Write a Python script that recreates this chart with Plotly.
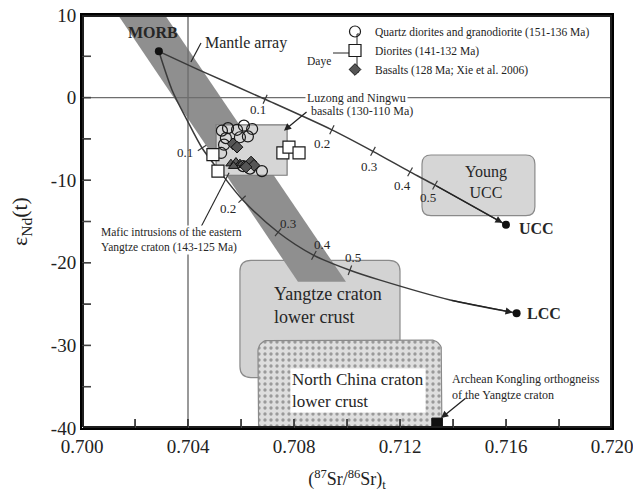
import numpy as np
import plotly.graph_objects as go

FONT = "Liberation Serif"
INK = "#262626"

# ---- axes -------------------------------------------------------------
x_range = [0.700, 0.720]
y_range = [-40, 10]
x_tick_vals = [0.700, 0.702, 0.704, 0.706, 0.708, 0.710, 0.712, 0.714, 0.716, 0.718, 0.720]
x_tick_text = ["0.700", "", "0.704", "", "0.708", "", "0.712", "", "0.716", "", "0.720"]
y_tick_vals = [10, 5, 0, -5, -10, -15, -20, -25, -30, -35, -40]
y_tick_text = ["10", "", "0", "", "-10", "", "-20", "", "-30", "", "-40"]

# ---- end-members ------------------------------------------------------
morb_sr, morb_nd = 0.7029, 5.6
ucc_sr, ucc_nd = 0.7160, -15.4
lcc_sr, lcc_nd = 0.7164, -26.1

# ---- mixing curves MORB -> UCC and MORB -> LCC ------------------------
ucc_curve_sr = [0.7029, 0.70445, 0.70691, 0.70943, 0.71098, 0.71238, 0.71332, 0.7160]
ucc_curve_nd = [5.6, 3.3, -0.2, -3.9, -6.5, -9.0, -10.6, -15.4]
lcc_curve_sr = [0.7029, 0.7034, 0.70396, 0.70453, 0.70521, 0.70604, 0.7074,
                0.70875, 0.71011, 0.71125, 0.71389, 0.7164]
lcc_curve_nd = [5.6, 0.9, -2.7, -6.1, -9.0, -12.3, -16.3, -19.1, -20.9,
                -22.1, -24.5, -26.1]

# mixing proportions marked on the curves
mix_labels = ["0.1", "0.2", "0.3", "0.4", "0.5"]
ucc_mark_sr = [0.70691, 0.70943, 0.71098, 0.71238, 0.71332]
ucc_mark_nd = [-0.2, -3.9, -6.5, -9.0, -10.6]
ucc_label_sr = [0.70664, 0.70906, 0.71083, 0.71211, 0.71306]
ucc_label_nd = [-1.5, -5.5, -8.4, -10.6, -12.1]
lcc_mark_sr = [0.70453, 0.70604, 0.7074, 0.70875, 0.71011]
lcc_mark_nd = [-6.1, -12.3, -16.3, -19.1, -20.9]
lcc_label_sr = [0.70389, 0.70551, 0.70777, 0.70909, 0.71023]
lcc_label_nd = [-6.7, -13.4, -15.2, -17.8, -19.4]

# ---- fields -----------------------------------------------------------
mantle_sr = [0.70136, 0.70313, 0.70996, 0.70815]
mantle_nd = [10, 10, -22.3, -22.3]
luzong_sr = [0.70506, 0.70774]
luzong_nd = [-9.4, -3.3]
young_ucc_sr = [0.71283, 0.71709]
young_ucc_nd = [-14.3, -6.95]
yangtze_lc_sr = [0.70596, 0.71200]
yangtze_lc_nd = [-33.9, -19.7]
ncc_lc_sr = [0.70664, 0.71358]
ncc_lc_nd = [-41.0, -29.35]
kongling_sr = [0.7132, 0.7136]
kongling_nd = [-40.0, -38.8]

# ---- Daye samples -----------------------------------------------------
qd_sr = [0.70528, 0.70551, 0.70585, 0.70611, 0.70642, 0.70596, 0.70626,
         0.70543, 0.70536, 0.70525, 0.70634, 0.70679, 0.70608]
qd_nd = [-4.0, -3.7, -3.9, -3.4, -3.8, -4.8, -4.7, -4.9, -5.7, -6.7,
         -8.6, -8.9, -8.3]
dio_sr = [0.70494, 0.70513, 0.70758, 0.70781, 0.70819]
dio_nd = [-6.9, -8.9, -6.7, -6.0, -6.7]
bas_sr = [0.70570, 0.70585, 0.70638, 0.70649, 0.70619]
bas_nd = [-5.6, -6.0, -7.8, -8.2, -8.4]
# mafic intrusions of the eastern Yangtze craton
maf_sr = [0.70562, 0.70581, 0.70596, 0.70611, 0.70572]
maf_nd = [-8.0, -7.8, -8.0, -8.2, -8.3]

legend_names = ["Quartz diorites and granodiorite (151-136 Ma)",
                "Diorites (141-132 Ma)",
                "Basalts (128 Ma; Xie et al. 2006)"]

# ---- layout geometry --------------------------------------------------
W, H = 633, 492
M_L, M_R, M_T, M_B = 82, 21, 15, 64
PW, PH = W - M_L - M_R, H - M_T - M_B
SX = PW / (x_range[1] - x_range[0])   # px per unit Sr ratio
SY = PH / (y_range[1] - y_range[0])   # px per epsilon unit
TICK_PX = 9


def px_x(px):
    return (px - M_L) / PW


def px_y(py):
    return (H - M_B - py) / PH


def rounded_path(xs, ys, r):
    x0, x1 = xs
    y0, y1 = ys
    rx, ry = r / SX, r / SY
    return (f"M {x0 + rx},{y0} L {x1 - rx},{y0} Q {x1},{y0} {x1},{y0 + ry} "
            f"L {x1},{y1 - ry} Q {x1},{y1} {x1 - rx},{y1} "
            f"L {x0 + rx},{y1} Q {x0},{y1} {x0},{y1 - ry} "
            f"L {x0},{y0 + ry} Q {x0},{y0} {x0 + rx},{y0} Z")


def rounded_outline(xs, ys, r, n=10):
    x0, x1 = xs
    y0, y1 = ys
    rx, ry = r / SX, r / SY
    corners = [(x1 - rx, y0 + ry, -90, 0), (x1 - rx, y1 - ry, 0, 90),
               (x0 + rx, y1 - ry, 90, 180), (x0 + rx, y0 + ry, 180, 270)]
    px, py = [], []
    for cx, cy, a0, a1 in corners:
        t = np.radians(np.linspace(a0, a1, n))
        px += list(cx + rx * np.cos(t))
        py += list(cy + ry * np.sin(t))
    px.append(px[0])
    py.append(py[0])
    return px, py


def cross_marks(curve_sr, curve_nd, mark_sr, mark_nd, half_px=5):
    """short strokes across a curve at the given points, perpendicular on screen"""
    cx = (np.array(curve_sr) - x_range[0]) * SX
    cy = (y_range[1] - np.array(curve_nd)) * SY
    out = []
    for ms, mn in zip(mark_sr, mark_nd):
        i = int(np.argmin(np.abs(np.array(curve_sr) - ms)))
        i0, i1 = max(i - 1, 0), min(i + 1, len(cx) - 1)
        dx, dy = cx[i1] - cx[i0], cy[i1] - cy[i0]
        n = np.hypot(dx, dy)
        ux, uy = -dy / n, dx / n          # screen normal
        out.append(dict(type="line",
                        x0=ms + ux * half_px / SX, y0=mn - uy * half_px / SY,
                        x1=ms - ux * half_px / SX, y1=mn + uy * half_px / SY,
                        line=dict(color="#3a3a3a", width=1.2)))
    return out


fig = go.Figure()

# ---- fields -----------------------------------------------------------
shapes = []
shapes.append(dict(type="path", path=rounded_path(yangtze_lc_sr, yangtze_lc_nd, 11),
                   fillcolor="#d3d3d3", line=dict(color="#8a8a8a", width=1.2), layer="below"))
mantle_path = "M " + " L ".join(f"{a},{b}" for a, b in zip(mantle_sr, mantle_nd)) + " Z"
shapes.append(dict(type="path", path=mantle_path, fillcolor="#8f8f8f",
                   line=dict(width=0), layer="below"))
shapes.append(dict(type="path", path=rounded_path(young_ucc_sr, young_ucc_nd, 9),
                   fillcolor="#d6d6d6", line=dict(color="#8a8a8a", width=1.2), layer="below"))
shapes.append(dict(type="rect", x0=luzong_sr[0], x1=luzong_sr[1],
                   y0=luzong_nd[0], y1=luzong_nd[1], fillcolor="#d6d6d6",
                   line=dict(color="#7a7a7a", width=1.2), layer="below"))
# reference lines
shapes.append(dict(type="line", x0=x_range[0], x1=x_range[1], y0=0, y1=0,
                   line=dict(color="#6e6e6e", width=1.4), layer="below"))
shapes.append(dict(type="line", x0=0.704, x1=0.704, y0=y_range[0], y1=y_range[1],
                   line=dict(color="#6e6e6e", width=1.4), layer="below"))
# leader lines
shapes.append(dict(type="line", x0=0.70449, y0=6.6, x1=0.70411, y1=4.3,
                   line=dict(color=INK, width=1.2)))
shapes.append(dict(type="line", x0=0.70445, y0=-15.9, x1=0.70555, y1=-9.1,
                   line=dict(color=INK, width=1.1)))
# proportion marks on the mixing curves
shapes += cross_marks(ucc_curve_sr, ucc_curve_nd, ucc_mark_sr, ucc_mark_nd)
shapes += cross_marks(lcc_curve_sr, lcc_curve_nd, lcc_mark_sr, lcc_mark_nd)
# Daye bracket of the legend
bx = px_x(357)
shapes += [
    dict(type="line", xref="paper", yref="paper", x0=px_x(333), x1=px_x(356),
         y0=px_y(53), y1=px_y(53), line=dict(color=INK, width=1)),
    dict(type="line", xref="paper", yref="paper", x0=bx, x1=bx,
         y0=px_y(34), y1=px_y(72), line=dict(color=INK, width=1)),
    dict(type="line", xref="paper", yref="paper", x0=bx, x1=px_x(359),
         y0=px_y(34), y1=px_y(34), line=dict(color=INK, width=1)),
    dict(type="line", xref="paper", yref="paper", x0=bx, x1=px_x(359),
         y0=px_y(72), y1=px_y(72), line=dict(color=INK, width=1)),
]

# North China craton lower crust: stippled field
nx, ny = rounded_outline(ncc_lc_sr, ncc_lc_nd, 11)
fig.add_trace(go.Scatter(x=nx, y=ny, mode="lines", fill="toself",
                         line=dict(color="#8a8a8a", width=1.2),
                         fillpattern=dict(shape=".", bgcolor="#dedede", fgcolor="#9a9a9a",
                                          size=6, solidity=0.25),
                         hoverinfo="skip", showlegend=False))
# Kongling orthogneiss
fig.add_trace(go.Scatter(x=[kongling_sr[0], kongling_sr[1], kongling_sr[1], kongling_sr[0], kongling_sr[0]],
                         y=[kongling_nd[0], kongling_nd[0], kongling_nd[1], kongling_nd[1], kongling_nd[0]],
                         mode="lines", fill="toself", fillcolor="#111111",
                         line=dict(color="#111111", width=1), showlegend=False, hoverinfo="skip"))

# mixing curves
for cs, cn in [(ucc_curve_sr, ucc_curve_nd), (lcc_curve_sr, lcc_curve_nd)]:
    fig.add_trace(go.Scatter(x=cs, y=cn, mode="lines",
                             line=dict(color="#3a3a3a", width=1.5, shape="spline", smoothing=0.8),
                             showlegend=False, hoverinfo="skip"))

# samples
fig.add_trace(go.Scatter(x=maf_sr, y=maf_nd, mode="markers",
                         marker=dict(symbol="triangle-up", size=9, color="#5a5a5a",
                                     line=dict(color="#111", width=1)),
                         showlegend=False))
fig.add_trace(go.Scatter(x=qd_sr, y=qd_nd, mode="markers", name=legend_names[0],
                         marker=dict(symbol="circle-open", size=11,
                                     line=dict(color="#1a1a1a", width=1.2), color="#1a1a1a")))
fig.add_trace(go.Scatter(x=dio_sr, y=dio_nd, mode="markers", name=legend_names[1],
                         marker=dict(symbol="square", size=12, color="white",
                                     line=dict(color="#1a1a1a", width=1.2))))
fig.add_trace(go.Scatter(x=bas_sr, y=bas_nd, mode="markers", name=legend_names[2],
                         marker=dict(symbol="diamond", size=9, color="#555555",
                                     line=dict(color="#111", width=1))))

# end-members
fig.add_trace(go.Scatter(x=[morb_sr, ucc_sr, lcc_sr], y=[morb_nd, ucc_nd, lcc_nd],
                         mode="markers", marker=dict(size=8, color="#111"),
                         showlegend=False, hoverinfo="skip"))

# ---- frame and inward ticks drawn as line traces ----------------------
fx0, fx1 = x_range
fy0, fy1 = y_range
ex, ey = 1.0 / SX, 1.0 / SY          # one pixel, to keep the edges inside the clip
fig.add_trace(go.Scatter(x=[fx0 + ex, fx0 + ex, fx1 - ex, fx1 - ex, fx0 + ex],
                         y=[fy0 + ey, fy1 - ey, fy1 - ey, fy0 + ey, fy0 + ey],
                         mode="lines", line=dict(color="#1e1e1e", width=2),
                         showlegend=False, hoverinfo="skip"))
tick_x, tick_y = [], []
for v in x_tick_vals[1:-1]:
    tick_x += [v, v, None]
    tick_y += [fy0, fy0 + TICK_PX / SY, None]
for v in y_tick_vals[1:-1]:
    tick_x += [fx0, fx0 + TICK_PX / SX, None]
    tick_y += [v, v, None]
fig.add_trace(go.Scatter(x=tick_x, y=tick_y, mode="lines",
                         line=dict(color="#1e1e1e", width=1.5),
                         showlegend=False, hoverinfo="skip"))

ann = []


def label(x, y, text, size, bold=False, xanchor="center", align="center", **kw):
    if bold:
        text = f"<b>{text}</b>"
    d = dict(x=x, y=y, text=text, showarrow=False, xanchor=xanchor, align=align,
             font=dict(family=FONT, size=size, color=INK))
    d.update(kw)
    ann.append(d)


label(0.70268, 7.9, "MORB", 16, bold=True)
label(0.70457, 6.6, "Mantle array", 16, xanchor="left")
label(0.71642, -15.9, "UCC", 16, bold=True, xanchor="left")
label(0.71672, -26.1, "LCC", 16, bold=True, xanchor="left")
label(0.71525, -10.2, "Young<br>UCC", 16)
label(0.70717, -25.2, "Yangtze craton<br>lower crust", 18, xanchor="left", align="left")
label(0.70785, -35.4, "North China craton<br>lower crust", 17, xanchor="left", align="left",
      bgcolor="white", borderpad=1)
label(0.70842, 0.0, "Luzong and Ningwu", 12, xanchor="left", bgcolor="white", borderpad=1)
label(0.70857, -1.6, "basalts (130-110 Ma)", 12, xanchor="left")
label(0.70068, -17.2, "Mafic intrusions of the eastern<br>Yangtze craton (143-125 Ma)", 11.5,
      xanchor="left", align="left", bgcolor="white", borderpad=0)
label(0.71389, -35.0, "Archean Kongling orthogneiss<br>of the Yangtze craton", 12,
      xanchor="left", align="left")
ann.append(dict(x=px_x(319), y=px_y(53), xref="paper", yref="paper", text="Daye",
                showarrow=False, font=dict(family=FONT, size=11.5, color=INK)))

for t, xs, ys in zip(mix_labels, ucc_label_sr, ucc_label_nd):
    label(xs, ys, t, 13)
for t, xs, ys in zip(mix_labels, lcc_label_sr, lcc_label_nd):
    label(xs, ys, t, 13)

# arrows
arrow_style = dict(showarrow=True, text="", axref="x", ayref="y", arrowcolor="#222",
                   arrowhead=2, arrowsize=1.1, arrowwidth=1.3)
ann.append(dict(x=ucc_sr, y=ucc_nd, ax=ucc_curve_sr[-2], ay=ucc_curve_nd[-2],
                standoff=4, **arrow_style))
ann.append(dict(x=lcc_sr, y=lcc_nd, ax=lcc_curve_sr[-2], ay=lcc_curve_nd[-2],
                standoff=4, **arrow_style))
ann.append(dict(x=0.70762, y=-4.0, ax=0.70853, ay=-1.6, **arrow_style))
ann.append(dict(x=0.71355, y=-38.8, ax=0.71453, ay=-36.25, **arrow_style))

axis_common = dict(showline=True, linecolor="black", linewidth=2, mirror=True,
                   ticks="inside", ticklen=TICK_PX,
                   showgrid=False, zeroline=False, automargin=False,
                   ticklabeloverflow="allow",
                   tickfont=dict(family=FONT, size=19, color="#222"))

fig.update_layout(
    template="none",
    width=W, height=H,
    margin=dict(l=M_L, r=M_R, t=M_T, b=M_B, pad=0),
    xaxis=dict(range=x_range, tickmode="array", tickvals=x_tick_vals, ticktext=x_tick_text,
               title=dict(text="(<sup>87</sup>Sr/<sup>86</sup>Sr)<sub>t</sub>",
                          font=dict(family=FONT, size=18, color="#222")),
               **axis_common),
    yaxis=dict(range=y_range, tickmode="array", tickvals=y_tick_vals, ticktext=y_tick_text,
               title=dict(text="ε<sub>Nd</sub>(t)", font=dict(family=FONT, size=22, color="#222")),
               **axis_common),
    shapes=shapes,
    annotations=ann,
    showlegend=True,
    legend=dict(x=px_x(335), y=px_y(17), xanchor="left", yanchor="top",
                font=dict(family=FONT, size=11.5, color="#222"),
                bgcolor="rgba(0,0,0,0)", itemwidth=30, tracegroupgap=0),
)

fig.write_html("out.html")
